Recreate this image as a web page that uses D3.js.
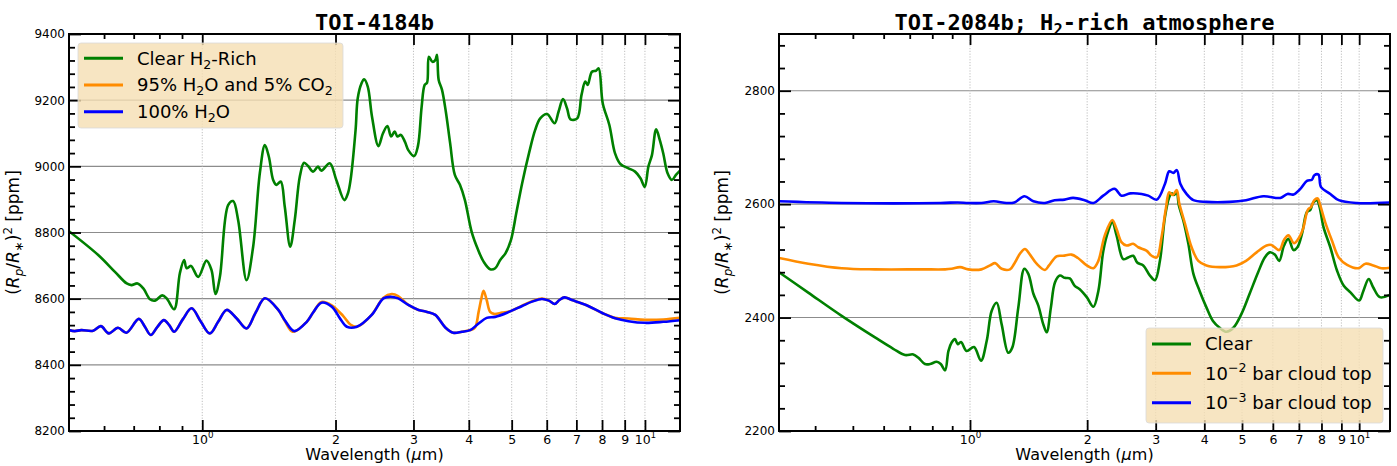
<!DOCTYPE html>
<html>
<head>
<meta charset="utf-8">
<script src="https://cdn.jsdelivr.net/npm/d3@7"></script>
<style>
  body { margin: 0; background: #fff; }
  svg { display: block; }
</style>
</head>
<body>
<svg id="fig" width="1397" height="466"></svg>
<script>
// ---------------- TOI-4184b transmission spectra ----------------
const toi4184ClearWave = [0.50, 0.582, 0.635, 0.675, 0.692, 0.714, 0.736, 0.762, 0.782, 0.812, 0.831, 0.864, 0.890, 0.910, 0.922, 0.943, 0.979, 1.022, 1.049, 1.071, 1.096, 1.144, 1.174, 1.205, 1.259, 1.303, 1.349, 1.385, 1.414, 1.446, 1.471, 1.504, 1.536, 1.580, 1.618, 1.661, 1.698, 1.734, 1.780, 1.826, 1.858, 1.941, 2.008, 2.094, 2.133, 2.163, 2.22, 2.245, 2.29, 2.32, 2.365, 2.418, 2.50, 2.56, 2.62, 2.67, 2.72, 2.76, 2.81, 2.87, 2.92, 3.01, 3.07, 3.13, 3.18, 3.22, 3.25, 3.31, 3.36, 3.39, 3.42, 3.48, 3.55, 3.63, 3.72, 3.82, 3.92, 4.06, 4.20, 4.32, 4.47, 4.59, 4.71, 4.84, 4.98, 5.12, 5.28, 5.47, 5.65, 5.80, 6.01, 6.25, 6.38, 6.53, 6.67, 6.79, 7.03, 7.19, 7.33, 7.42, 7.59, 7.75, 7.86, 8.03, 8.31, 8.56, 8.80, 9.18, 9.50, 9.77, 9.99, 10.18, 10.37, 10.6, 10.8, 11.0, 11.25, 11.5, 11.75, 12.0];
const toi4184Clear = [8804, 8732, 8681, 8646, 8641, 8646, 8631, 8598, 8594, 8610, 8601, 8568, 8677, 8717, 8692, 8699, 8666, 8715, 8687, 8614, 8666, 8883, 8895, 8838, 8656, 8757, 8979, 9064, 9029, 8959, 8944, 8954, 8878, 8757, 8838, 8969, 9011, 9001, 8984, 8999, 8987, 9009, 8959, 8898, 8918, 8959, 9110, 9206, 9251, 9263, 9241, 9150, 9061, 9100, 9122, 9090, 9105, 9090, 9095, 9074, 9049, 9031, 9061, 9180, 9246, 9253, 9331, 9316, 9321, 9337, 9261, 9231, 9165, 9070, 8974, 8944, 8898, 8802, 8747, 8712, 8689, 8692, 8717, 8737, 8777, 8858, 8949, 9039, 9110, 9145, 9158, 9130, 9165, 9203, 9175, 9142, 9145, 9216, 9256, 9246, 9286, 9289, 9296, 9190, 9125, 9039, 9007, 8994, 8984, 8964, 8938, 8999, 9034, 9112, 9080, 9039, 8979, 8959, 8974, 8987];

const toi4184WaterCo2Wave = [0.50, 0.515, 0.533, 0.567, 0.590, 0.615, 0.645, 0.674, 0.719, 0.742, 0.765, 0.792, 0.819, 0.842, 0.864, 0.905, 0.946, 0.993, 1.040, 1.086, 1.135, 1.195, 1.259, 1.32, 1.385, 1.485, 1.536, 1.60, 1.722, 1.78, 1.859, 1.961, 2.08, 2.16, 2.234, 2.414, 2.566, 2.68, 2.77, 2.92, 3.08, 3.22, 3.36, 3.54, 3.69, 3.86, 4.03, 4.13, 4.21, 4.27, 4.32, 4.39, 4.47, 4.56, 4.76, 4.93, 5.28, 5.56, 5.85, 6.07, 6.25, 6.41, 6.58, 6.84, 7.36, 8.03, 8.56, 9.18, 10.0, 11.0, 12.0];
const toi4184WaterCo2 = [8505, 8502, 8505, 8503, 8517, 8495, 8512, 8497, 8539, 8515, 8490, 8515, 8535, 8520, 8500, 8539, 8571, 8530, 8495, 8530, 8566, 8541, 8510, 8558, 8601, 8566, 8533, 8500, 8530, 8558, 8590, 8580, 8548, 8522, 8515, 8551, 8603, 8614, 8608, 8581, 8566, 8560, 8551, 8513, 8497, 8500, 8505, 8512, 8560, 8600, 8624, 8596, 8560, 8554, 8558, 8561, 8579, 8592, 8600, 8594, 8584, 8596, 8604, 8596, 8581, 8556, 8542, 8540, 8536, 8537, 8542];

const toi4184WaterWave = [0.50, 0.515, 0.533, 0.567, 0.590, 0.615, 0.645, 0.674, 0.719, 0.742, 0.765, 0.792, 0.819, 0.842, 0.864, 0.905, 0.946, 0.993, 1.040, 1.086, 1.135, 1.195, 1.259, 1.32, 1.385, 1.485, 1.536, 1.614, 1.722, 1.78, 1.859, 1.961, 2.05, 2.122, 2.234, 2.414, 2.566, 2.66, 2.77, 2.92, 3.08, 3.22, 3.36, 3.54, 3.69, 3.86, 4.03, 4.21, 4.39, 4.59, 4.93, 5.28, 5.56, 5.85, 6.07, 6.25, 6.41, 6.58, 6.84, 7.36, 8.03, 8.56, 9.18, 10.0, 11.0, 12.0];
const toi4184Water = [8505, 8502, 8505, 8503, 8517, 8495, 8512, 8497, 8539, 8515, 8490, 8515, 8535, 8520, 8500, 8539, 8571, 8530, 8495, 8530, 8566, 8541, 8510, 8558, 8601, 8566, 8535, 8502, 8530, 8558, 8588, 8576, 8539, 8515, 8515, 8551, 8601, 8606, 8601, 8581, 8566, 8560, 8551, 8513, 8497, 8500, 8505, 8525, 8542, 8545, 8560, 8578, 8591, 8599, 8594, 8584, 8596, 8604, 8596, 8581, 8556, 8541, 8532, 8527, 8530, 8535];

// ---------------- TOI-2084b transmission spectra ----------------
const toi2084ClearWave = [0.323, 0.384, 0.468, 0.570, 0.635, 0.681, 0.715, 0.737, 0.766, 0.789, 0.821, 0.841, 0.863, 0.880, 0.897, 0.915, 0.930, 0.948, 0.980, 1.024, 1.067, 1.104, 1.137, 1.171, 1.206, 1.254, 1.284, 1.331, 1.379, 1.412, 1.455, 1.498, 1.543, 1.574, 1.614, 1.653, 1.702, 1.752, 1.805, 1.858, 1.914, 1.995, 2.075, 2.137, 2.201, 2.267, 2.321, 2.380, 2.475, 2.550, 2.626, 2.689, 2.787, 2.900, 2.987, 3.076, 3.168, 3.250, 3.297, 3.343, 3.397, 3.44, 3.534, 3.64, 3.75, 3.89, 4.05, 4.21, 4.38, 4.56, 4.75, 4.98, 5.23, 5.50, 5.72, 5.89, 6.07, 6.23, 6.41, 6.58, 6.78, 6.94, 7.13, 7.34, 7.49, 7.61, 7.79, 7.91, 8.10, 8.43, 8.77, 9.13, 9.51, 10.0, 10.25, 10.58, 10.87, 11.3, 12.0];
const toi2084Clear = [2480, 2444, 2403, 2365, 2345, 2334, 2335, 2329, 2318, 2318, 2322, 2318, 2307, 2341, 2356, 2362, 2353, 2357, 2341, 2348, 2324, 2359, 2412, 2426, 2388, 2338, 2347, 2418, 2486, 2477, 2442, 2421, 2388, 2374, 2418, 2462, 2474, 2470, 2469, 2456, 2450, 2436, 2419, 2447, 2518, 2553, 2568, 2545, 2503, 2506, 2509, 2497, 2492, 2474, 2466, 2500, 2577, 2612, 2619, 2616, 2621, 2598, 2571, 2530, 2477, 2447, 2418, 2394, 2382, 2375, 2382, 2406, 2442, 2480, 2506, 2515, 2511, 2500, 2527, 2539, 2519, 2524, 2548, 2586, 2590, 2602, 2607, 2595, 2559, 2524, 2483, 2456, 2444, 2430, 2447, 2468, 2453, 2436, 2440];

const toi2084Cloud2Wave = [0.323, 0.384, 0.468, 0.570, 0.751, 0.863, 0.897, 0.943, 0.99, 1.07, 1.126, 1.16, 1.206, 1.267, 1.299, 1.345, 1.384, 1.426, 1.483, 1.558, 1.596, 1.669, 1.735, 1.823, 1.894, 1.995, 2.075, 2.137, 2.22, 2.321, 2.38, 2.45, 2.525, 2.626, 2.706, 2.84, 2.93, 3.02, 3.106, 3.186, 3.25, 3.32, 3.397, 3.45, 3.57, 3.71, 3.86, 4.05, 4.38, 4.84, 5.12, 5.45, 5.78, 5.95, 6.23, 6.41, 6.58, 6.80, 6.98, 7.17, 7.38, 7.52, 7.67, 7.82, 7.94, 8.18, 8.51, 8.86, 9.31, 9.95, 10.38, 10.87, 11.4, 12.0];
const toi2084Cloud2 = [2505, 2495, 2487, 2485, 2485, 2485, 2486, 2489, 2485, 2485, 2492, 2496, 2486, 2485, 2495, 2513, 2521, 2511, 2495, 2484, 2492, 2508, 2509, 2511, 2505, 2492, 2487, 2500, 2545, 2572, 2556, 2533, 2527, 2530, 2524, 2518, 2509, 2506, 2542, 2592, 2621, 2616, 2625, 2601, 2565, 2524, 2500, 2492, 2489, 2492, 2500, 2515, 2527, 2528, 2519, 2537, 2545, 2531, 2539, 2556, 2590, 2595, 2607, 2610, 2598, 2568, 2536, 2506, 2493, 2487, 2495, 2492, 2487, 2488];

const toi2084Cloud3Wave = [0.323, 0.468, 0.84, 0.93, 0.99, 1.07, 1.15, 1.24, 1.30, 1.38, 1.455, 1.558, 1.65, 1.75, 1.84, 1.97, 2.075, 2.20, 2.35, 2.45, 2.58, 2.76, 2.87, 3.02, 3.17, 3.25, 3.33, 3.40, 3.47, 3.6, 3.75, 4.05, 4.65, 5.12, 5.67, 6.27, 6.54, 6.78, 7.06, 7.34, 7.56, 7.67, 7.86, 7.98, 8.43, 8.86, 9.86, 12.0];
const toi2084Cloud3 = [2605, 2602, 2602, 2603, 2602, 2602, 2605, 2602, 2603, 2614, 2605, 2602, 2607, 2608, 2611, 2607, 2602, 2615, 2627, 2615, 2619, 2618, 2615, 2608, 2636, 2658, 2655, 2660, 2636, 2618, 2607, 2604, 2604, 2607, 2614, 2611, 2618, 2617, 2627, 2641, 2643, 2651, 2652, 2630, 2618, 2607, 2602, 2603];

// ---------------- axes ticks ----------------
const xTickValues = [1, 2, 3, 4, 5, 6, 7, 8, 9, 10];
const xTickLabels = ['10^0', '2', '3', '4', '5', '6', '7', '8', '9', '10^1'];
const xMinorLeft = [0.6, 0.7, 0.8, 0.9];
const xMinorRight = [0.4, 0.5, 0.6, 0.7, 0.8, 0.9];
const yTicksLeft = [8200, 8400, 8600, 8800, 9000, 9200, 9400];
const yTicksRight = [2200, 2400, 2600, 2800];

const COLORS = { green: '#008000', orange: '#ff8c00', blue: '#0000ff' };
const SANS = "'DejaVu Sans', 'Liberation Sans', sans-serif";
const MONO = "'DejaVu Sans Mono', 'Liberation Mono', monospace";

const svg = d3.select('#fig');

// Writes a sequence of text parts (plain, italic, sub- or superscript) as tspans.
function richText(textSel, parts, fs) {
  let offset = 0;
  parts.forEach(p => {
    const small = p.sub || p.sup;
    const target = p.sub ? 0.22 * fs : (p.sup ? -0.42 * fs : 0);
    const ts = textSel.append('tspan')
      .attr('dy', (target - offset).toFixed(2))
      .attr('font-size', small ? (fs * 0.7) : fs)
      .text(p.t);
    if (p.it) ts.attr('font-style', 'italic');
    offset = target;
  });
  return textSel;
}

function parseTickLabel(s) {
  const i = s.indexOf('^');
  return i < 0 ? [{ t: s }] : [{ t: s.slice(0, i) }, { t: s.slice(i + 1), sup: true }];
}

function drawPanel(p) {
  const g = svg.append('g');
  const [x0, x1] = p.x.range();
  const [yb, yt] = p.y.range();
  const [ymin, ymax] = p.y.domain();

  g.append('clipPath').attr('id', p.id + '-clip')
    .append('rect').attr('x', x0).attr('y', yt).attr('width', x1 - x0).attr('height', yb - yt);

  // horizontal grid at labelled values
  g.append('g').selectAll('line')
    .data(p.yTicks.filter(v => v > ymin && v < ymax))
    .join('line')
    .attr('x1', x0).attr('x2', x1)
    .attr('y1', d => p.y(d)).attr('y2', d => p.y(d))
    .attr('stroke', '#8c8c8c').attr('stroke-width', 1.1);

  // vertical dotted grid
  g.append('g').selectAll('line')
    .data(xTickValues)
    .join('line')
    .attr('x1', d => p.x(d)).attr('x2', d => p.x(d))
    .attr('y1', yt).attr('y2', yb)
    .attr('stroke', '#b8b8b8').attr('stroke-width', 0.9)
    .attr('stroke-dasharray', '1.2,1.6');

  // spectra
  const line = d3.line()
    .x(d => p.x(d[0])).y(d => p.y(d[1]))
    .curve(d3.curveCatmullRom.alpha(0.5));
  const curves = g.append('g').attr('clip-path', `url(#${p.id}-clip)`);
  p.series.forEach(s => {
    curves.append('path')
      .datum(d3.zip(s.wave, s.vals))
      .attr('d', line)
      .attr('fill', 'none')
      .attr('stroke', s.color)
      .attr('stroke-width', 2.6)
      .attr('stroke-linejoin', 'round')
      .attr('stroke-linecap', 'round');
  });

  // axes (ticks point inward on all four sides)
  const yMinor = d3.range(ymin, ymax + 1, 40).filter(v => !p.yTicks.includes(v));
  const axes = [
    [d3.axisBottom(p.x).tickValues(xTickValues).tickSizeInner(-11).tickSizeOuter(0).tickPadding(3)
      .tickFormat((d, i) => xTickLabels[i]), `translate(0,${yb})`, 'xlab'],
    [d3.axisBottom(p.x).tickValues(p.xMinor).tickSizeInner(-5).tickSizeOuter(0).tickFormat(''), `translate(0,${yb})`],
    [d3.axisTop(p.x).tickValues(xTickValues).tickSizeInner(-11).tickSizeOuter(0).tickFormat(''), `translate(0,${yt})`],
    [d3.axisTop(p.x).tickValues(p.xMinor).tickSizeInner(-5).tickSizeOuter(0).tickFormat(''), `translate(0,${yt})`],
    [d3.axisLeft(p.y).tickValues(p.yTicks).tickSizeInner(-12).tickSizeOuter(0).tickPadding(4)
      .tickFormat(d3.format('d')), `translate(${x0},0)`],
    [d3.axisLeft(p.y).tickValues(yMinor).tickSizeInner(-6).tickSizeOuter(0).tickFormat(''), `translate(${x0},0)`],
    [d3.axisRight(p.y).tickValues(p.yTicks).tickSizeInner(-12).tickSizeOuter(0).tickFormat(''), `translate(${x1},0)`],
    [d3.axisRight(p.y).tickValues(yMinor).tickSizeInner(-6).tickSizeOuter(0).tickFormat(''), `translate(${x1},0)`]
  ];
  axes.forEach(([ax, tr, kind]) => {
    const ga = g.append('g').attr('transform', tr).call(ax)
      .attr('font-family', SANS).attr('font-size', 12);
    ga.select('.domain').remove();
    ga.selectAll('line').attr('stroke', '#000').attr('stroke-width', 1.8);
    ga.selectAll('text').attr('fill', '#000');
    if (kind === 'xlab') {
      ga.selectAll('text').each(function (d, i) {
        const t = d3.select(this);
        t.text('').attr('dy', null).attr('y', 12.5);
        richText(t, parseTickLabel(xTickLabels[i]), 12.5);
      });
    }
  });

  // frame
  g.append('rect')
    .attr('x', x0).attr('y', yt).attr('width', x1 - x0).attr('height', yb - yt)
    .attr('fill', 'none').attr('stroke', '#000').attr('stroke-width', 2);

  // title
  richText(g.append('text')
    .attr('x', (x0 + x1) / 2).attr('y', 30)
    .attr('text-anchor', 'middle')
    .attr('font-family', MONO).attr('font-weight', 'bold').attr('font-size', 22),
    p.title, 22);

  // axis titles
  richText(g.append('text')
    .attr('x', (x0 + x1) / 2).attr('y', 460)
    .attr('text-anchor', 'middle')
    .attr('font-family', SANS).attr('font-size', 16),
    [{ t: 'Wavelength (' }, { t: 'μ', it: true }, { t: 'm)' }], 16);

  richText(g.append('text')
    .attr('transform', `translate(${p.ylabX},${(yt + yb) / 2}) rotate(-90)`)
    .attr('text-anchor', 'middle')
    .attr('font-family', SANS).attr('font-size', 17),
    [{ t: '(' }, { t: 'R', it: true }, { t: 'p', it: true, sub: true }, { t: '/' },
     { t: 'R', it: true }, { t: '∗', sub: true }, { t: ')' }, { t: '2', sup: true }, { t: ' [ppm]' }], 17);

  // legend
  const L = p.legend;
  const lg = g.append('g');
  lg.append('rect')
    .attr('x', L.x).attr('y', L.y).attr('width', L.w).attr('height', L.h)
    .attr('rx', 3).attr('ry', 3)
    .attr('fill', '#f5deb3').attr('fill-opacity', 0.8)
    .attr('stroke', '#d9d9d9').attr('stroke-opacity', 0.8).attr('stroke-width', 1);
  p.series.forEach((s, i) => {
    const cy = L.rows[i];
    lg.append('line')
      .attr('x1', L.x + 6).attr('x2', L.x + 45)
      .attr('y1', cy).attr('y2', cy)
      .attr('stroke', s.color).attr('stroke-width', 3);
    richText(lg.append('text')
      .attr('x', L.x + 59).attr('y', cy + 0.36 * L.fs)
      .attr('font-family', SANS).attr('font-size', L.fs)
      .attr('fill', '#000'),
      s.label, L.fs);
  });
}

drawPanel({
  id: 'toi4184',
  x: d3.scaleLog().domain([0.5, 12]).range([69, 680]),
  y: d3.scaleLinear().domain([8200, 9400]).range([431, 34]),
  xMinor: xMinorLeft,
  yTicks: yTicksLeft,
  ylabX: 19,
  title: [{ t: 'TOI-4184b' }],
  legend: { x: 78, y: 43, w: 265, h: 85, rows: [58.3, 85, 111.7], fs: 18 },
  series: [
    { wave: toi4184ClearWave, vals: toi4184Clear, color: COLORS.green,
      label: [{ t: 'Clear H' }, { t: '2', sub: true }, { t: '-Rich' }] },
    { wave: toi4184WaterCo2Wave, vals: toi4184WaterCo2, color: COLORS.orange,
      label: [{ t: '95% H' }, { t: '2', sub: true }, { t: 'O and 5% CO' }, { t: '2', sub: true }] },
    { wave: toi4184WaterWave, vals: toi4184Water, color: COLORS.blue,
      label: [{ t: '100% H' }, { t: '2', sub: true }, { t: 'O' }] }
  ]
});

drawPanel({
  id: 'toi2084',
  x: d3.scaleLog().domain([0.323, 12]).range([779, 1390]),
  y: d3.scaleLinear().domain([2200, 2900]).range([431, 34]),
  xMinor: xMinorRight,
  yTicks: yTicksRight,
  ylabX: 728,
  title: [{ t: 'TOI-2084b; H' }, { t: '2', sub: true }, { t: '-rich atmosphere' }],
  legend: { x: 1146, y: 328, w: 237, h: 95, rows: [344, 373.3, 402.7], fs: 18 },
  series: [
    { wave: toi2084ClearWave, vals: toi2084Clear, color: COLORS.green,
      label: [{ t: 'Clear' }] },
    { wave: toi2084Cloud2Wave, vals: toi2084Cloud2, color: COLORS.orange,
      label: [{ t: '10' }, { t: '−2', sup: true }, { t: ' bar cloud top' }] },
    { wave: toi2084Cloud3Wave, vals: toi2084Cloud3, color: COLORS.blue,
      label: [{ t: '10' }, { t: '−3', sup: true }, { t: ' bar cloud top' }] }
  ]
});
</script>
</body>
</html>
